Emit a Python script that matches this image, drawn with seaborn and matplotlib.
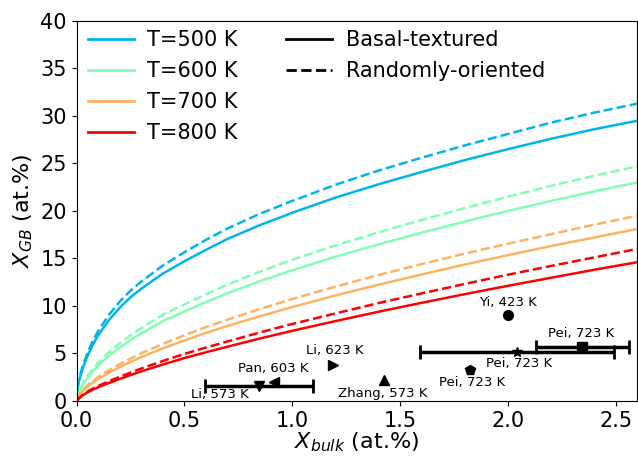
import numpy as np
import pandas as pd
import matplotlib
matplotlib.use("Agg")
import matplotlib.pyplot as plt
import seaborn as sns
from matplotlib.lines import Line2D

# bulk concentration grid (at.%)
x_bulk = [0, 0.005, 0.01, 0.02, 0.03, 0.05, 0.075, 0.1, 0.15, 0.2, 0.25, 0.3, 0.4,
          0.5, 0.6, 0.7, 0.85, 1.0, 1.2, 1.4, 1.6, 1.8, 2.0, 2.2, 2.4, 2.6]

# GB concentration (at.%)
basal_500 = [0, 1.3, 2.0, 2.8, 3.5, 4.7, 5.9, 6.9, 8.5, 9.8, 10.9, 11.8, 13.4,
             14.7, 15.9, 17.05, 18.5, 19.8, 21.4, 22.8, 24.1, 25.35, 26.5, 27.6, 28.6, 29.5]
random_500 = [0, 1.4, 2.15, 3.0, 3.75, 5.0, 6.3, 7.35, 9.05, 10.45, 11.6, 12.55, 14.25,
              15.65, 16.95, 18.15, 19.7, 21.05, 22.75, 24.25, 25.6, 26.9, 28.1, 29.3, 30.35, 31.3]
basal_600 = [0, 0.45, 0.8, 1.3, 1.75, 2.4, 3.1, 3.7, 4.75, 5.6, 6.4, 7.1, 8.4,
             9.4, 10.4, 11.33, 12.6, 13.75, 15.17, 16.48, 17.71, 18.88, 20.0, 21.05, 22.05, 23.0]
random_600 = [0, 0.49, 0.86, 1.4, 1.89, 2.6, 3.35, 4.0, 5.13, 6.05, 6.9, 7.65, 9.07,
              10.15, 11.2, 12.25, 13.6, 14.85, 16.35, 17.75, 19.05, 20.3, 21.5, 22.65, 23.7, 24.7]
basal_700 = [0, 0.25, 0.45, 0.8, 1.05, 1.5, 1.92, 2.3, 2.97, 3.55, 4.1, 4.6, 5.53,
             6.35, 7.15, 7.88, 8.91, 9.88, 11.09, 12.23, 13.31, 14.35, 15.34, 16.3, 17.2, 18.1]
random_700 = [0, 0.27, 0.49, 0.87, 1.14, 1.63, 2.08, 2.5, 3.22, 3.87, 4.45, 5.0, 6.0,
              6.9, 7.76, 8.55, 9.67, 10.72, 12.02, 13.25, 14.4, 15.5, 16.55, 17.55, 18.55, 19.5]
basal_800 = [0, 0.11, 0.22, 0.42, 0.6, 0.88, 1.17, 1.42, 1.88, 2.3, 2.71, 3.1, 3.82,
             4.5, 5.11, 5.7, 6.56, 7.37, 8.39, 9.38, 10.32, 11.23, 12.11, 12.96, 13.8, 14.6]
random_800 = [0, 0.12, 0.24, 0.46, 0.66, 0.97, 1.28, 1.56, 2.06, 2.52, 2.97, 3.4, 4.19,
              4.94, 5.61, 6.25, 7.2, 8.09, 9.2, 10.29, 11.31, 12.31, 13.28, 14.2, 15.1, 16.0]

temps = ["T=500 K", "T=600 K", "T=700 K", "T=800 K"]
basal = [basal_500, basal_600, basal_700, basal_800]
randomly = [random_500, random_600, random_700, random_800]

# experimental points
exp_labels = ["Yi, 423 K", "Pei, 723 K", "Pei, 723 K", "Pei, 723 K",
              "Zhang, 573 K", "Li, 623 K", "Pan, 603 K", "Li, 573 K"]
exp_x = [2.0, 2.345, 2.04, 1.825, 1.425, 1.19, 0.915, 0.846]
exp_y = [9.0, 5.68, 5.16, 3.23, 2.18, 3.76, 2.0, 1.6]
exp_xerr = [0, 0.215, 0.45, 0, 0, 0, 0, 0.25]
exp_markers = ["o", "s", "*", "p", "^", ">", "<", "v"]
label_x = [2.0, 2.34, 2.05, 1.836, 1.42, 1.195, 0.91, 0.664]
label_y = [10.3, 7.1, 3.94, 1.9, 0.8, 5.26, 3.4, 0.7]

colors = [plt.cm.rainbow(v) for v in [0.25, 0.5, 0.75, 1.0]]

rows = []
for t, b, r in zip(temps, basal, randomly):
    for xv, yv in zip(x_bulk, b):
        rows.append((t, "Basal-textured", xv, yv))
    for xv, yv in zip(x_bulk, r):
        rows.append((t, "Randomly-oriented", xv, yv))
df = pd.DataFrame(rows, columns=["T", "texture", "x", "y"])

fig, ax = plt.subplots(figsize=(6.38, 4.57), dpi=100)
fig.subplots_adjust(left=0.12, right=0.999, bottom=0.123, top=0.954)

sns.lineplot(data=df, x="x", y="y", hue="T", style="texture",
             palette=colors, dashes={"Basal-textured": "", "Randomly-oriented": (3.7, 1.6)},
             estimator=None, sort=False, linewidth=1.8, legend=False, ax=ax)

for i in range(len(exp_x)):
    if exp_xerr[i] > 0:
        ax.errorbar(exp_x[i], exp_y[i], xerr=exp_xerr[i], fmt=exp_markers[i], color="black",
                    markersize=7, elinewidth=2.5, capsize=5, capthick=2)
    else:
        ax.plot(exp_x[i], exp_y[i], exp_markers[i], color="black", markersize=7)
    ax.text(label_x[i], label_y[i], exp_labels[i], ha="center", va="center", fontsize=9.5)

ax.set_xlim(0, 2.6)
ax.set_ylim(0, 40)
ax.set_xlabel("$X_{bulk}$ (at.%)", fontsize=16, labelpad=0)
ax.set_ylabel("$X_{GB}$ (at.%)", fontsize=16)
ax.tick_params(labelsize=15)

temp_handles = [Line2D([], [], color=c, lw=2) for c in colors]
leg1 = ax.legend(temp_handles, temps, loc="upper left", bbox_to_anchor=(0.008, 0.996),
                 frameon=False, fontsize=15, handlelength=2.2, handletextpad=0.6,
                 borderaxespad=0.15, borderpad=0.2, labelspacing=0.53)
ax.add_artist(leg1)
style_handles = [Line2D([], [], color="black", lw=2),
                 Line2D([], [], color="black", lw=2, ls="--")]
ax.legend(style_handles, ["Basal-textured", "Randomly-oriented"], loc="upper left",
          bbox_to_anchor=(0.36, 0.996), frameon=False, fontsize=15,
          handlelength=2.2, handletextpad=0.7, borderaxespad=0.15,
          borderpad=0.2, labelspacing=0.53)

fig.savefig("out.png", dpi=100)
